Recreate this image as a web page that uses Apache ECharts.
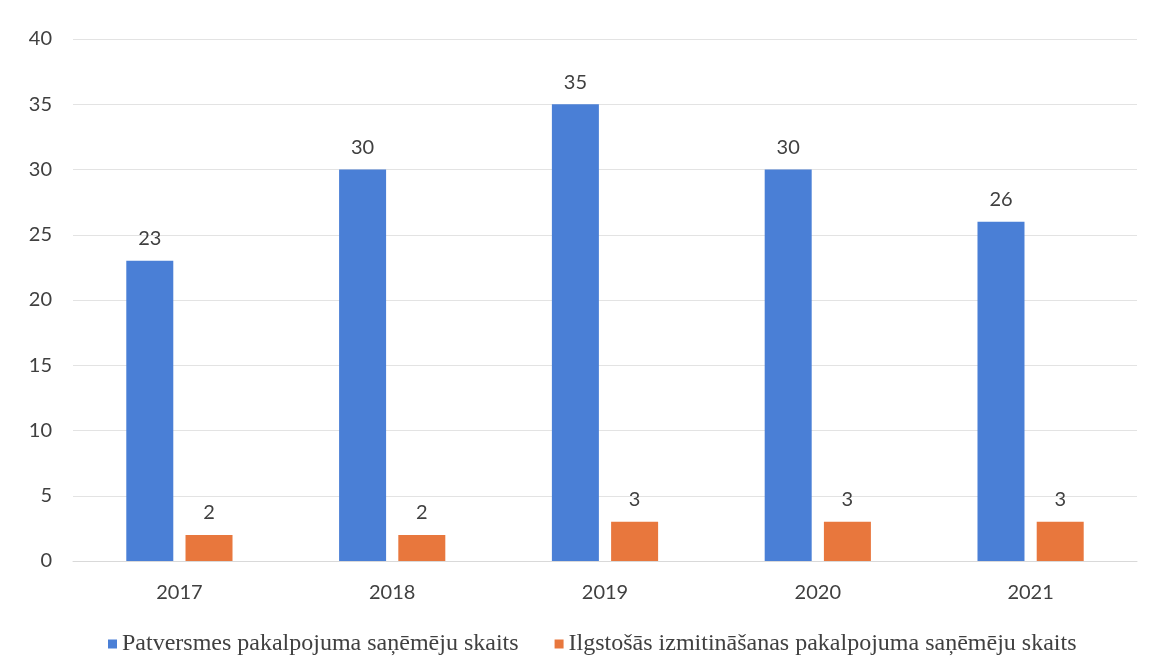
<!DOCTYPE html>
<html><head><meta charset="utf-8">
<script src="https://cdn.jsdelivr.net/npm/echarts@6/dist/echarts.min.js"></script>
<style>html,body{margin:0;padding:0;background:#fff}#c{width:1153px;height:672px}</style>
</head><body><div id="c"></div>
<script>
const categories = ['2017','2018','2019','2020','2021'];
const shelterValues = [23, 30, 35, 30, 26];
const longTermValues = [2, 2, 3, 3, 3];
const seriesNames = ['Patversmes pakalpojuma saņēmēju skaits', 'Ilgstošās izmitināšanas pakalpojuma saņēmēju skaits'];

const chart = echarts.init(document.getElementById('c'));
const labelStyle = {show: true, position: 'top', distance: 12, color: '#404040', fontFamily: 'Lato', fontSize: 20};
chart.setOption({
  animation: false,
  grid: {left: 73, right: 16, top: 39, bottom: 111},
  legend: {
    bottom: 11, left: 103, itemWidth: 9, itemHeight: 9, itemGap: 36, icon: 'rect',
    textStyle: {fontFamily: 'Liberation Serif', fontSize: 24, color: '#404040'},
    data: seriesNames
  },
  xAxis: {
    type: 'category', data: categories,
    axisLine: {lineStyle: {color: '#d9d9d9'}}, axisTick: {show: false},
    axisLabel: {color: '#404040', fontFamily: 'Lato', fontSize: 20, margin: 22}
  },
  yAxis: {
    type: 'value', min: 0, max: 40, interval: 5,
    axisLine: {show: false}, axisTick: {show: false},
    splitLine: {lineStyle: {color: '#e3e3e3'}},
    axisLabel: {color: '#404040', fontFamily: 'Lato', fontSize: 20, margin: 21}
  },
  series: [
    {name: seriesNames[0], type: 'bar', data: shelterValues, barWidth: 47, barGap: '26%',
     itemStyle: {color: '#4a7fd6'}, label: labelStyle},
    {name: seriesNames[1], type: 'bar', data: longTermValues, barWidth: 47,
     itemStyle: {color: '#e8773d'}, label: labelStyle}
  ]
});
</script></body></html>
